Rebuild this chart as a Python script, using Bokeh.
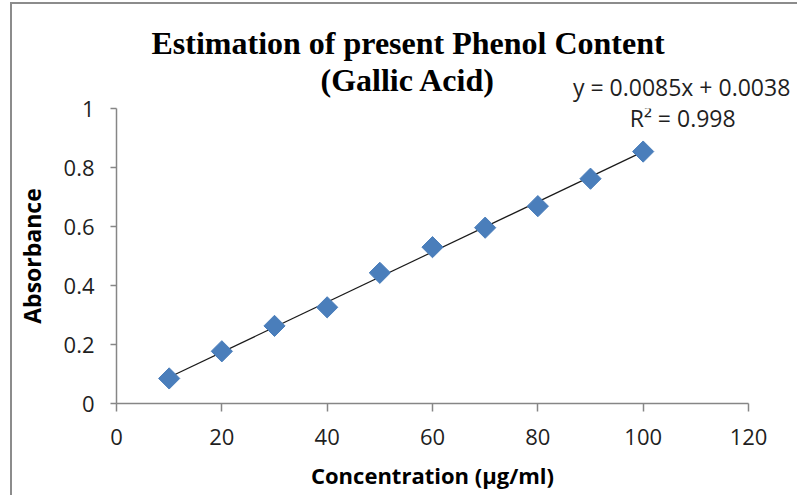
import numpy as np
from bokeh.plotting import figure
from bokeh.models import Label, FixedTicker, Range1d
from bokeh.embed import file_html
from bokeh.resources import INLINE

# ---- data ----
concentration = [10, 20, 30, 40, 50, 60, 70, 80, 90, 100]
absorbance = [0.085, 0.177, 0.263, 0.326, 0.443, 0.530, 0.596, 0.669, 0.762, 0.854]
slope = 0.0085
intercept = 0.0038
r_squared = 0.998
x_ticks = [0, 20, 40, 60, 80, 100, 120]
y_ticks = [0, 0.2, 0.4, 0.6, 0.8, 1]
y_tick_labels = ["0", "0.2", "0.4", "0.6", "0.8", "1"]
title_line1 = "Estimation of present Phenol Content"
title_line2 = "(Gallic Acid)"
equation_text = "y = 0.0085x + 0.0038"
r2_text = "R\u00b2 = 0.998"

SANS = "Open Sans"
SERIF = "Liberation Serif"
TEXT = "#1f1f1f"
AXIS = "#868686"
BLUE = "#4a7ebb"

W, H = 787, 493
p = figure(width=W, height=H, x_range=Range1d(0, 120), y_range=Range1d(0, 1),
           output_backend="svg", toolbar_location=None,
           min_border_left=103, min_border_right=51,
           min_border_top=104, min_border_bottom=94)
p.styles = {"margin-left": "10px", "margin-top": "2px",
            "border-left": "2px solid #8c8c8c", "border-top": "2px solid #8c8c8c"}
p.xgrid.visible = False
p.ygrid.visible = False
p.outline_line_color = None
p.background_fill_color = "white"
p.border_fill_color = "white"

# axes
p.xaxis.ticker = FixedTicker(ticks=x_ticks)
p.yaxis.ticker = FixedTicker(ticks=y_ticks)
p.yaxis.major_label_overrides = {t: s for t, s in zip(y_ticks, y_tick_labels)}
for ax in (p.xaxis[0], p.yaxis[0]):
    ax.axis_line_color = AXIS
    ax.axis_line_width = 1.5
    ax.major_tick_line_color = AXIS
    ax.major_tick_line_width = 1.5
    ax.minor_tick_line_color = None
    ax.major_tick_in = 0
    ax.major_label_text_font = SANS
    ax.major_label_text_font_size = "22px"
    ax.major_label_text_color = TEXT
    ax.axis_label_text_font = SANS
    ax.axis_label_text_font_style = "bold"
    ax.axis_label_text_color = "#000000"
p.xaxis.axis_label_text_font_size = "22px"
p.yaxis.axis_label_text_font_size = "23px"
p.xaxis.axis_label_text_line_height = 1.0
p.xaxis.major_tick_out = 8
p.yaxis.major_tick_out = 6
p.xaxis.major_label_standoff = 17
p.yaxis.major_label_standoff = 16
p.xaxis.axis_label = "Concentration (\u00b5g/ml)"
p.yaxis.axis_label = "Absorbance"
p.xaxis.axis_label_standoff = 12
p.yaxis.axis_label_standoff = 13

# trendline
x0, x1 = min(concentration), max(concentration)
p.line([x0, x1], [slope * x0 + intercept, slope * x1 + intercept],
       line_color="#1a1a1a", line_width=1.2)

# points
p.scatter(concentration, absorbance, marker="square", angle=np.pi / 4,
          size=15, fill_color=BLUE, line_color=BLUE)

# title (two centred lines) and equation, in the panel above the frame
def lab(x, y, text, font, size, bold=False, color="#000000"):
    return Label(x=x, y=y, text=text, text_align="center", text_baseline="alphabetic",
                 text_font=font, text_font_size=size,
                 text_font_style="bold" if bold else "normal", text_color=color)

p.add_layout(lab(55.36, 1.221, title_line1, SERIF, "32px", True), "above")
p.add_layout(lab(55.36, 1.096, title_line2, SERIF, "32px", True), "above")
p.add_layout(lab(107.3, 1.072, equation_text, SANS, "23px", color=TEXT), "above")
p.add_layout(lab(107.5, 0.968, r2_text, SANS, "23px", color=TEXT))

open("out.html", "w").write(file_html(p, INLINE))
